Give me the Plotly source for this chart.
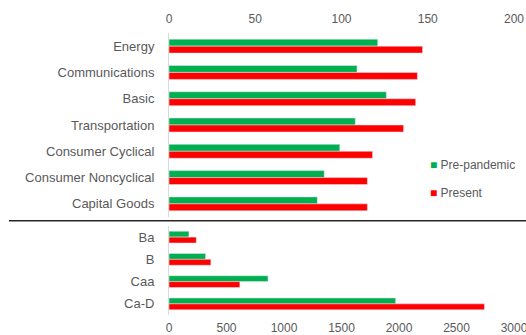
import plotly.graph_objects as go
from plotly.subplots import make_subplots

# Sector spreads (top panel)
sectors = ["Energy", "Communications", "Basic", "Transportation",
           "Consumer Cyclical", "Consumer Noncyclical", "Capital Goods"]
sector_pre = [121, 109, 126, 108, 99, 90, 86]
sector_now = [147, 144, 143, 136, 118, 115, 115]

# Rating buckets (bottom panel)
ratings = ["Ba", "B", "Caa", "Ca-D"]
rating_pre = [173, 318, 861, 1971]
rating_now = [237, 364, 616, 2743]

series_names = ["Pre-pandemic", "Present"]
GREEN = "#00B050"
RED = "#FF0000"
TXT = "#595959"
FONT = "Liberation Sans, Arial, sans-serif"

fig = make_subplots(rows=2, cols=1, shared_xaxes=False,
                    row_heights=[0.67, 0.33], vertical_spacing=0.03)

fig.add_trace(go.Bar(y=sectors, x=sector_pre, orientation="h", name=series_names[0],
                     marker_color=GREEN), row=1, col=1)
fig.add_trace(go.Bar(y=sectors, x=sector_now, orientation="h", name=series_names[1],
                     marker_color=RED), row=1, col=1)
fig.add_trace(go.Bar(y=ratings, x=rating_pre, orientation="h", name=series_names[0],
                     marker_color=GREEN), row=2, col=1)
fig.add_trace(go.Bar(y=ratings, x=rating_now, orientation="h", name=series_names[1],
                     marker_color=RED), row=2, col=1)

axis_font = dict(family=FONT, size=12, color=TXT)
cat_font = dict(family=FONT, size=13, color=TXT)

# Compact legend drawn as annotations next to the top panel
legend_notes = []
for i, (name, col) in enumerate(zip(series_names, [GREEN, RED])):
    legend_notes.append(dict(
        xref="paper", yref="paper", x=0.752, y=0.532 - i * 0.099,
        xanchor="left", yanchor="middle", showarrow=False,
        text=f"<span style='color:{col}'>■</span> {name}",
        font=dict(family=FONT, size=12, color=TXT)))

fig.update_layout(
    width=526, height=335,
    margin=dict(l=169, r=12, t=33, b=20, autoexpand=False),
    paper_bgcolor="white", plot_bgcolor="white",
    barmode="group", bargap=0.47, bargroupgap=0,
    showlegend=False,
    xaxis=dict(side="top", range=[0, 200], dtick=50, showgrid=False, zeroline=False,
               tickfont=axis_font, ticks="", ticklabelstandoff=7,
               ticklabeloverflow="allow"),
    xaxis2=dict(range=[0, 3000], dtick=500, showgrid=False, zeroline=False,
                tickfont=axis_font, ticks="", ticklabelstandoff=4,
                ticklabeloverflow="allow"),
    yaxis=dict(autorange="reversed", showgrid=False, showline=True, linecolor="#D9D9D9",
               linewidth=1, tickfont=cat_font, ticks="", ticklabelstandoff=11,
               domain=[0.3475, 1]),
    yaxis2=dict(autorange="reversed", showgrid=False, showline=True, linecolor="#D9D9D9",
                linewidth=1, tickfont=cat_font, ticks="", ticklabelstandoff=11,
                domain=[0, 0.3156]),
    annotations=legend_notes,
    shapes=[dict(type="line", xref="paper", yref="paper", x0=-0.464, x1=1.04,
                 y0=0.334, y1=0.334, line=dict(color="#262626", width=1.5))],
)

fig.write_html("out.html")
